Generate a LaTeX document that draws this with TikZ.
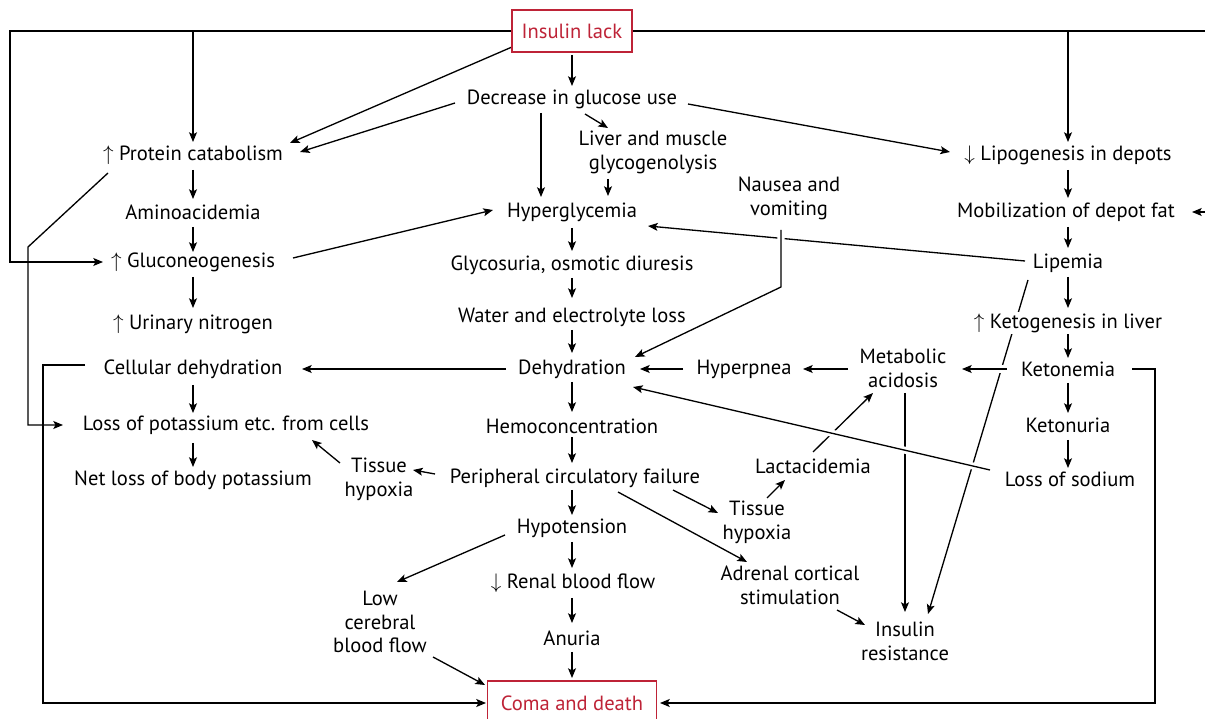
\documentclass[tikz,border=0pt]{standalone}
\usepackage{fontspec}
\setmainfont{PT Sans}
\usetikzlibrary{arrows.meta,calc,backgrounds}
\definecolor{insred}{RGB}{190,35,55}
\begin{document}
\begin{tikzpicture}[x=0.02cm,y=-0.02cm,
  txt/.style={align=center,inner sep=1pt,font=\fontsize{11.7}{13.6}\selectfont},
  redbox/.style={txt,draw=insred,text=insred,fill=white,line width=0.9pt,inner sep=0pt},
  arr/.style={-{Stealth[length=5.5pt,width=4.5pt,inset=1.2pt]},line width=0.75pt},
  ln/.style={line width=0.75pt},
  frame/.style={line width=0.9pt},
  halo/.style={preaction={draw=white,line width=4pt,-}}]
\useasboundingbox (0,0) rectangle (1205,719);
% nodes
\node[redbox,minimum width=2.4cm,minimum height=0.84cm] (ins) at (572,31) {Insulin lack};
\node[txt] (dec) at (572,99) {Decrease in glucose use};
\node[txt] (liver) at (653,152) {Liver and muscle\\glycogenolysis};
\node[txt] (prot) at (193,155) {$\uparrow$ Protein catabolism};
\node[txt] (lipo) at (1068,155) {$\downarrow$ Lipogenesis in depots};
\node[txt] (amino) at (193,212) {Aminoacidemia};
\node[txt] (hyp) at (572,212) {Hyperglycemia};
\node[txt] (nau) at (789,198) {Nausea and\\vomiting};
\node[txt] (mob) at (1066,212) {Mobilization of depot fat};
\node[txt] (glu) at (193,262) {$\uparrow$ Gluconeogenesis};
\node[txt] (glyc) at (572,265) {Glycosuria, osmotic diuresis};
\node[txt] (lip) at (1068,263) {Lipemia};
\node[txt] (urin) at (193,324) {$\uparrow$ Urinary nitrogen};
\node[txt] (water) at (572,317) {Water and electrolyte loss};
\node[txt,fill=white] (keto) at (1068,323) {$\uparrow$ Ketogenesis in liver};
\node[txt] (cell) at (193,369) {Cellular dehydration};
\node[txt] (dehy) at (572,369) {Dehydration};
\node[txt] (hpn) at (744,369) {Hyperpnea};
\node[txt] (met) at (903,368) {Metabolic\\acidosis};
\node[txt] (ketn) at (1068,369) {Ketonemia};
\node[txt] (lossk) at (226,425) {Loss of potassium etc. from cells};
\node[txt] (hemo) at (572,426) {Hemoconcentration};
\node[txt] (ketu) at (1068,425) {Ketonuria};
\node[txt] (net) at (193,480) {Net loss of body potassium};
\node[txt] (tiss1) at (379,479) {Tissue\\hypoxia};
\node[txt] (perip) at (575,478) {Peripheral circulatory failure};
\node[txt] (lact) at (813,466) {Lactacidemia};
\node[txt] (sod) at (1070,479) {Loss of sodium};
\node[txt] (tiss2) at (757,522) {Tissue\\hypoxia};
\node[txt] (hypo) at (572,528) {Hypotension};
\node[txt] (renal) at (573,583) {$\downarrow$ Renal blood flow};
\node[txt] (adr) at (790,585) {Adrenal cortical\\stimulation};
\node[txt] (low) at (380,622) {Low\\cerebral\\blood flow};
\node[txt] (anuria) at (572,638) {Anuria};
\node[txt] (insr) at (905,641) {Insulin\\resistance};
\node[redbox,minimum width=3.38cm,minimum height=0.88cm] (coma) at (572,703) {Coma and death};
\coordinate (tl) at (10,31);
\coordinate (tr) at (1212,31);
\coordinate (pk) at (28,247);
\begin{pgfonlayer}{background}
% top frame
\draw[arr] (ins.west) -- (tl) |- ($(glu)+(-90,0)$);
\draw[arr] (prot |- ins) -- ($(prot)+(0,-13)$);
\draw[ln] (ins.east) -- (tr);
\draw[arr] (tr) |- ($(mob)+(126,0)$);
\draw[arr] (lipo |- ins) -- ($(lipo)+(0,-13)$);
% upper part
\draw[arr] ($(ins)+(-60,16)$) -- ($(prot)+(97,-12)$);
\draw[arr] ($(dec)+(-117,4)$) -- ($(prot)+(107,-3)$);
\draw[arr] ($(ins)+(0,24)$) -- ($(dec)+(0,-13)$);
\draw[arr] ($(dec)+(13,15)$) -- ($(liver)+(-45,-24)$);
\draw[arr] ($(liver)+(-45,27)$) -- ($(hyp)+(36,-16)$);
\draw[arr] ($(dec)+(-31,14)$) -- ($(hyp)+(-31,-15)$);
\draw[arr] ($(dec)+(116,5)$) -- ($(lipo)+(-118,-3)$);
\draw[arr] ($(prot)+(0,15)$) -- ($(amino)+(0,-13)$);
\draw[arr] ($(amino)+(0,15)$) -- ($(glu)+(0,-10)$);
\draw[arr] ($(glu)+(0,15)$) -- ($(urin)+(0,-16)$);
\draw[arr] ($(glu)+(100,-4)$) -- ($(hyp)+(-79,-2)$);
\draw[arr] ($(prot)+(-85,18)$) -- (pk) |- ($(lossk)+(-163,0)$);
\draw[arr] ($(hyp)+(0,16)$) -- ($(glyc)+(0,-14)$);
\draw[arr] ($(glyc)+(0,13)$) -- ($(water)+(0,-19)$);
\draw[arr] ($(water)+(0,13)$) -- ($(dehy)+(0,-16)$);
\draw[arr] ($(lip)+(-43,-2)$) -- ($(hyp)+(76,14)$);
\draw[arr] ($(lipo)+(0,15)$) -- ($(mob)+(2,-14)$);
\draw[arr] ($(mob)+(2,15)$) -- ($(lip)+(0,-15)$);
\draw[arr] ($(lip)+(0,14)$) -- ($(keto)+(0,-15)$);
\draw[arr] ($(keto)+(0,9)$) -- ($(ketn)+(0,-11)$);
\draw[arr] ($(ketn)+(0,14)$) -- ($(ketu)+(0,-12)$);
\draw[arr] ($(ketu)+(0,15)$) -- ($(sod)+(-2,-11)$);
\draw[arr] ($(lip)+(-40,17)$) -- ($(insr)+(23,-27)$);
\draw[arr] ($(met)+(2,25)$) -- ($(insr)+(0,-29)$);
\draw[arr] ($(lact)+(0,-14)$) -- ($(met)+(-30,25)$);
% horizontal row
\draw[arr] ($(met)+(-55,1)$) -- ($(hpn)+(59,0)$);
\draw[arr] ($(hpn)+(-61,0)$) -- ($(dehy)+(68,0)$);
\draw[arr] ($(dehy)+(-66,0)$) -- ($(cell)+(109,0)$);
\draw[arr] ($(cell)+(0,16)$) -- ($(lossk)+(-33,-12)$);
\draw[arr] ($(lossk)+(-33,18)$) -- ($(net)+(0,-13)$);
\draw[arr,frame] ($(cell)+(-108,-4)$) -- ++(-42,0) |- ($(coma)+(-86,0)$);
\draw[arr,frame] ($(ketn)+(64,0)$) -- ++(23,0) |- ($(coma)+(88,0)$);
% lower part
\draw[arr] ($(dehy)+(0,13)$) -- ($(hemo)+(0,-14)$);
\draw[arr] ($(hemo)+(0,11)$) -- ($(perip)+(-3,-15)$);
\draw[arr] ($(perip)+(-3,12)$) -- ($(hypo)+(0,-13)$);
\draw[arr] ($(perip)+(-140,-4)$) -- ($(tiss1)+(34,-9)$);
\draw[arr] ($(tiss1)+(-39,-16)$) -- ($(lossk)+(86,15)$);
\draw[arr] ($(perip)+(98,12)$) -- ($(tiss2)+(-39,-9)$);
\draw[arr] ($(perip)+(43,14)$) -- ($(adr)+(-43,-23)$);
\draw[arr] ($(tiss2)+(10,-24)$) -- ($(lact)+(-28,14)$);
\draw[arr] ($(adr)+(47,25)$) -- ($(insr)+(-40,-16)$);
\draw[arr] ($(hypo)+(-67,7)$) -- ($(low)+(17,-40)$);
\draw[arr] ($(hypo)+(0,14)$) -- ($(renal)+(-1,-15)$);
\draw[arr] ($(renal)+(-1,15)$) -- ($(anuria)+(0,-15)$);
\draw[arr] ($(anuria)+(0,14)$) -- ($(coma)+(0,-25)$);
\draw[arr] ($(low)+(53,35)$) -- ($(coma)+(-87,-18)$);
% crossing lines on top
\draw[arr,halo] ($(ketn)+(-61,0)$) -- ($(met)+(59,1)$);
\draw[arr,halo] ($(sod)+(-80,-9)$) -- ($(dehy)+(61,18)$);
\draw[arr,halo] ($(nau)+(-8,32)$) -- ++(0,57) -- ($(dehy)+(63,-12)$);
\end{pgfonlayer}
\end{tikzpicture}
\end{document}
